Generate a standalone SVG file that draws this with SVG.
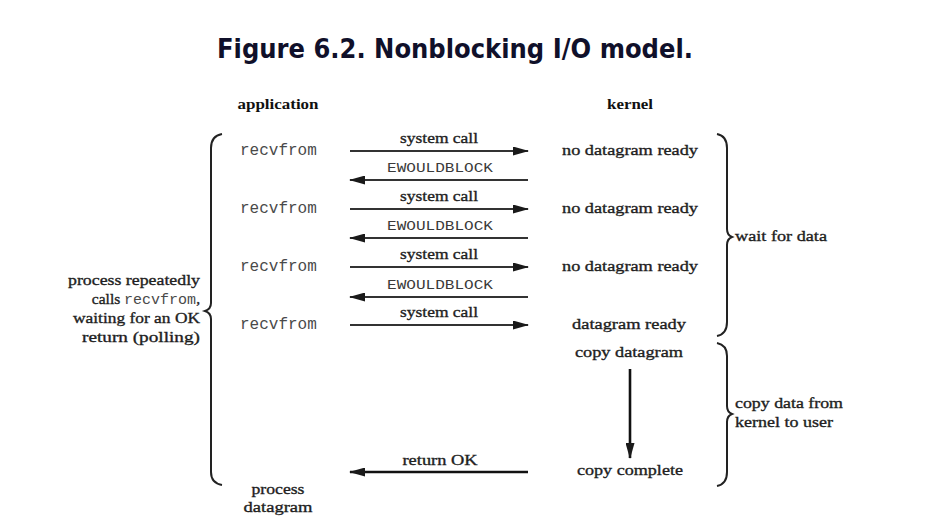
<svg xmlns="http://www.w3.org/2000/svg" width="928" height="530" viewBox="0 0 928 530">
<defs>
<marker id="ah" markerUnits="userSpaceOnUse" markerWidth="16" markerHeight="9" refX="15" refY="4.5" orient="auto">
<path d="M0,0 L16,4.5 L0,9 z" fill="#1a1a1a"/>
</marker>
<style>
.t{font-family:"Liberation Serif","Times New Roman",serif;font-size:15.5px;fill:#1e1e1e;stroke:#1e1e1e;stroke-width:0.35}
.b{font-family:"Liberation Serif","Times New Roman",serif;font-size:15.5px;font-weight:bold;fill:#111}
.m{font-family:"Liberation Mono","Courier New",monospace;font-size:16px;fill:#4a4a4a;stroke:none}
.e{font-family:"Liberation Mono","Courier New",monospace;font-size:13px;fill:#3a3a3a}
.title{font-family:"DejaVu Sans",Verdana,sans-serif;font-size:26px;font-weight:bold;fill:#10102a}
.c{text-anchor:middle}
.r{text-anchor:end}
.ln{stroke:#333;stroke-width:1.8;fill:none}
.lk{stroke:#111;stroke-width:2.6;fill:none}
.br{stroke:#222;stroke-width:2;fill:none}
</style>
</defs>
<rect width="928" height="530" fill="#ffffff"/>
<text id="title" class="title" x="217" y="58" textLength="476" lengthAdjust="spacingAndGlyphs">Figure 6.2. Nonblocking I/O model.</text>

<g id="headers">
<text class="b c" x="278" y="109" textLength="81" lengthAdjust="spacingAndGlyphs">application</text>
<text class="b c" x="630" y="109" textLength="46" lengthAdjust="spacingAndGlyphs">kernel</text>
</g>

<g id="app">
<text class="m" x="240" y="155">recvfrom</text>
<text class="m" x="240" y="213">recvfrom</text>
<text class="m" x="240" y="271">recvfrom</text>
<text class="m" x="240" y="329">recvfrom</text>
<text class="t c" x="278" y="494" textLength="53" lengthAdjust="spacingAndGlyphs">process</text>
<text class="t c" x="278" y="512" textLength="69" lengthAdjust="spacingAndGlyphs">datagram</text>
</g>

<g id="kernel">
<text class="t c" x="630" y="155" textLength="136" lengthAdjust="spacingAndGlyphs">no datagram ready</text>
<text class="t c" x="630" y="213" textLength="136" lengthAdjust="spacingAndGlyphs">no datagram ready</text>
<text class="t c" x="630" y="271" textLength="136" lengthAdjust="spacingAndGlyphs">no datagram ready</text>
<text class="t c" x="629" y="329" textLength="114" lengthAdjust="spacingAndGlyphs">datagram ready</text>
<text class="t c" x="629" y="357" textLength="108" lengthAdjust="spacingAndGlyphs">copy datagram</text>
<text class="t c" x="630" y="475" textLength="106" lengthAdjust="spacingAndGlyphs">copy complete</text>
</g>

<g id="left-note">
<path class="br" d="M222,134 Q211,136 211,148 L211,303 Q211,309 205,311 Q211,313 211,319 L211,472 Q211,483 222,485"/>
<text class="t r" x="200" y="285" textLength="132" lengthAdjust="spacingAndGlyphs">process repeatedly</text>
<text class="t r" x="200" y="304">calls <tspan class="m" style="font-size:15px">recvfrom</tspan>,</text>
<text class="t r" x="200" y="323" textLength="127" lengthAdjust="spacingAndGlyphs">waiting for an OK</text>
<text class="t r" x="200" y="342" textLength="118" lengthAdjust="spacingAndGlyphs">return (polling)</text>
</g>

<g id="wait-note">
<path class="br" d="M717,134 Q727,136 727,148 L727,229 Q727,235 732,237 Q727,239 727,245 L727,322 Q727,334 717,336"/>
<text class="t" x="735" y="241" textLength="92" lengthAdjust="spacingAndGlyphs">wait for data</text>
</g>

<g id="copy-note">
<path class="br" d="M717,343 Q727,345 727,356 L727,406 Q727,412 732,414 Q727,416 727,422 L727,472 Q727,484 717,486"/>
<text class="t" x="735" y="408" textLength="108" lengthAdjust="spacingAndGlyphs">copy data from</text>
<text class="t" x="735" y="427" textLength="98" lengthAdjust="spacingAndGlyphs">kernel to user</text>
</g>

<g id="connectors">
<line class="ln" x1="350" y1="151" x2="528" y2="151" marker-end="url(#ah)"/>
<line class="ln" x1="528" y1="180" x2="350" y2="180" marker-end="url(#ah)"/>
<line class="ln" x1="350" y1="209" x2="528" y2="209" marker-end="url(#ah)"/>
<line class="ln" x1="528" y1="238" x2="350" y2="238" marker-end="url(#ah)"/>
<line class="ln" x1="350" y1="267" x2="528" y2="267" marker-end="url(#ah)"/>
<line class="ln" x1="528" y1="297" x2="350" y2="297" marker-end="url(#ah)"/>
<line class="ln" x1="350" y1="325" x2="528" y2="325" marker-end="url(#ah)"/>
<line class="lk" x1="528" y1="472" x2="350" y2="472" marker-end="url(#ah)"/>
<line class="lk" x1="630" y1="369" x2="630" y2="458" marker-end="url(#ah)"/>
<text class="t c" x="439" y="143" textLength="78" lengthAdjust="spacingAndGlyphs">system call</text>
<text class="e c" x="440" y="172" textLength="106" lengthAdjust="spacingAndGlyphs">EWOULDBLOCK</text>
<text class="t c" x="439" y="201" textLength="78" lengthAdjust="spacingAndGlyphs">system call</text>
<text class="e c" x="440" y="230" textLength="106" lengthAdjust="spacingAndGlyphs">EWOULDBLOCK</text>
<text class="t c" x="439" y="259" textLength="78" lengthAdjust="spacingAndGlyphs">system call</text>
<text class="e c" x="440" y="289" textLength="106" lengthAdjust="spacingAndGlyphs">EWOULDBLOCK</text>
<text class="t c" x="439" y="317" textLength="78" lengthAdjust="spacingAndGlyphs">system call</text>
<text class="t c" x="440" y="465" textLength="75" lengthAdjust="spacingAndGlyphs">return OK</text>
</g>
</svg>
